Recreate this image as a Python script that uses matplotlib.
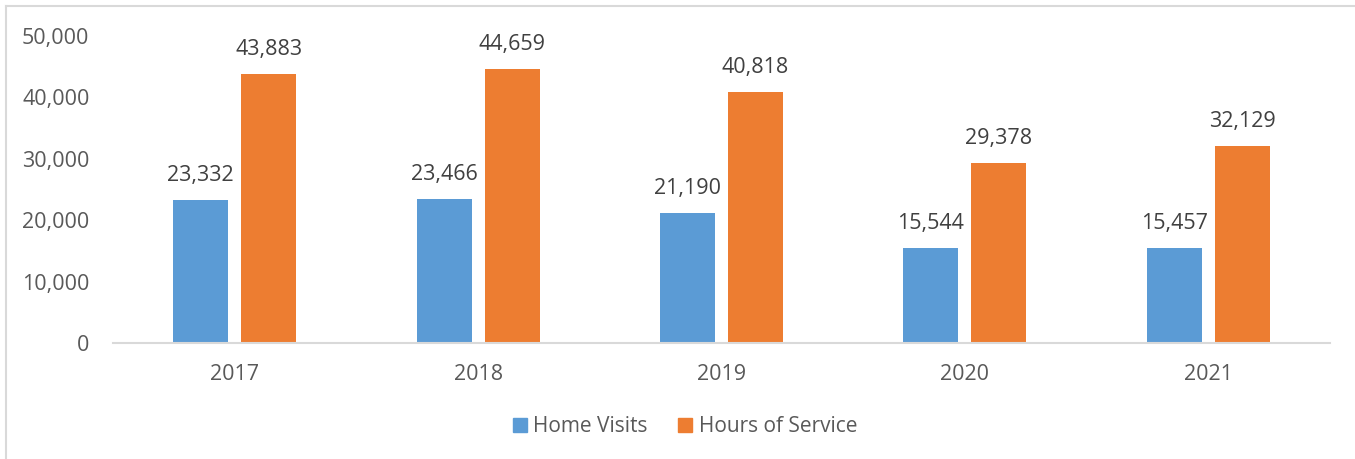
import numpy as np
import matplotlib
matplotlib.use("Agg")
import matplotlib.pyplot as plt
from matplotlib.lines import Line2D

years = ["2017", "2018", "2019", "2020", "2021"]
home_visits = [23332, 23466, 21190, 15544, 15457]
hours_of_service = [43883, 44659, 40818, 29378, 32129]

plt.rcParams['font.family'] = ['Open Sans', 'DejaVu Sans']
text_col = '#595959'
blue = '#5b9bd5'
orange = '#ed7d31'
fs = 15.5

fig = plt.figure(figsize=(13.55, 4.59), dpi=100)
ax = fig.add_axes([113 / 1355, 1 - 343 / 459, 1217 / 1355, 307 / 459])

x = np.arange(len(years))
w = 0.226
off = 0.14
b1 = ax.bar(x - off, home_visits, w, color=blue, label='Home Visits')
b2 = ax.bar(x + off, hours_of_service, w, color=orange, label='Hours of Service')

for bars in (b1, b2):
    for r in bars:
        ax.annotate(f"{int(r.get_height()):,}",
                    (r.get_x() + r.get_width() / 2, r.get_height()),
                    xytext=(0, 10), textcoords='offset points',
                    ha='center', va='bottom', fontsize=fs, color='#404040')

ax.set_xlim(-0.5, len(years) - 0.5)
ax.set_ylim(0, 50000)
ax.set_yticks(np.arange(0, 50001, 10000))
ax.set_yticklabels([f"{v:,}" for v in range(0, 50001, 10000)])
ax.set_xticks(x)
ax.set_xticklabels(years)
ax.tick_params(axis='both', length=0, labelsize=fs, colors=text_col)
ax.tick_params(axis='y', pad=17)
ax.tick_params(axis='x', pad=15)
for s in ('top', 'right', 'left'):
    ax.spines[s].set_visible(False)
ax.spines['bottom'].set_color('#d9d9d9')
ax.spines['bottom'].set_linewidth(1.5)

handles = [plt.Rectangle((0, 0), 1, 1, color=blue), plt.Rectangle((0, 0), 1, 1, color=orange)]
fig.legend(handles, ['Home Visits', 'Hours of Service'], loc='center',
           bbox_to_anchor=(685 / 1355, 1 - 427 / 459), ncol=2, frameon=False,
           fontsize=15, labelcolor=text_col, handlelength=0.68, handleheight=0.68,
           handletextpad=0.3, columnspacing=1.45)

# chart frame (only left and top edges visible in the crop)
fig.add_artist(Line2D([6 / 1355, 6 / 1355], [0, 1 - 6 / 459], transform=fig.transFigure,
                      color='#d9d9d9', lw=1.5))
fig.add_artist(Line2D([6 / 1355, 1], [1 - 6 / 459, 1 - 6 / 459], transform=fig.transFigure,
                      color='#d9d9d9', lw=1.5))

fig.savefig("out.png", dpi=100)
